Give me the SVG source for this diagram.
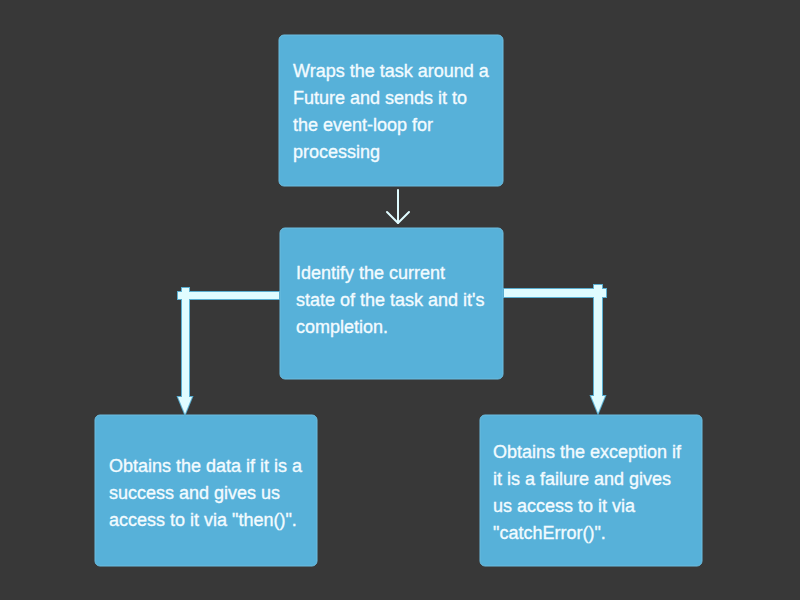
<svg xmlns="http://www.w3.org/2000/svg" width="800" height="600" viewBox="0 0 800 600">
<style>
.box{fill:#57b1d9;stroke:#6cbde0;stroke-width:1}
.t{font-family:"Liberation Sans",Arial,sans-serif;font-size:18px;fill:#f2fbff;stroke:#f2fbff;stroke-width:0.35}
.edge{fill:#5aaed0;stroke:#5aaed0;stroke-width:2}
.conn{fill:#e0fcff}
</style>
<rect width="800" height="600" fill="#383838"/>
<g id="n1">
<rect class="box" x="279" y="35" width="224" height="151" rx="5"/>
<text class="t" x="293" y="77">Wraps the task around a</text>
<text class="t" x="293" y="104">Future and sends it to</text>
<text class="t" x="293" y="131">the event-loop for</text>
<text class="t" x="293" y="158">processing</text>
</g>
<g id="n2">
<rect class="box" x="280" y="228" width="223" height="151" rx="5"/>
<text class="t" x="296" y="279">Identify the current</text>
<text class="t" x="296" y="306">state of the task and it's</text>
<text class="t" x="296" y="333">completion.</text>
</g>
<g id="n3">
<rect class="box" x="95" y="415" width="222" height="151" rx="5"/>
<text class="t" x="109" y="472">Obtains the data if it is a</text>
<text class="t" x="109" y="499">success and gives us</text>
<text class="t" x="109" y="526">access to it via "then()".</text>
</g>
<g id="n4">
<rect class="box" x="480" y="415" width="222" height="151" rx="5"/>
<text class="t" x="493" y="458">Obtains the exception if</text>
<text class="t" x="493" y="485">it is a failure and gives</text>
<text class="t" x="493" y="512">us access to it via</text>
<text class="t" x="493" y="539">"catchError()".</text>
</g>
<g id="connectors">
<g id="c1" fill="none" stroke="#e0fcff" stroke-width="2" stroke-linecap="round" stroke-linejoin="round">
<line x1="398" y1="190" x2="398" y2="223"/>
<polyline points="387,212 398,223 409,212"/>
</g>
<g id="c2">
<g class="edge">
<rect x="178" y="292" width="101" height="7"/>
<rect x="182" y="288" width="7" height="110"/>
<polygon points="178,397 192,397 185,414"/>
</g>
<g class="conn">
<rect x="178" y="292" width="101" height="7"/>
<rect x="182" y="288" width="7" height="110"/>
<polygon points="178,397 192,397 185,414"/>
</g>
</g>
<g id="c3">
<g class="edge">
<rect x="504" y="289" width="102" height="8"/>
<rect x="594" y="285" width="8" height="112"/>
<polygon points="591,396 605,396 598,413"/>
</g>
<g class="conn">
<rect x="504" y="289" width="102" height="8"/>
<rect x="594" y="285" width="8" height="112"/>
<polygon points="591,396 605,396 598,413"/>
</g>
</g>
</g>
</svg>
